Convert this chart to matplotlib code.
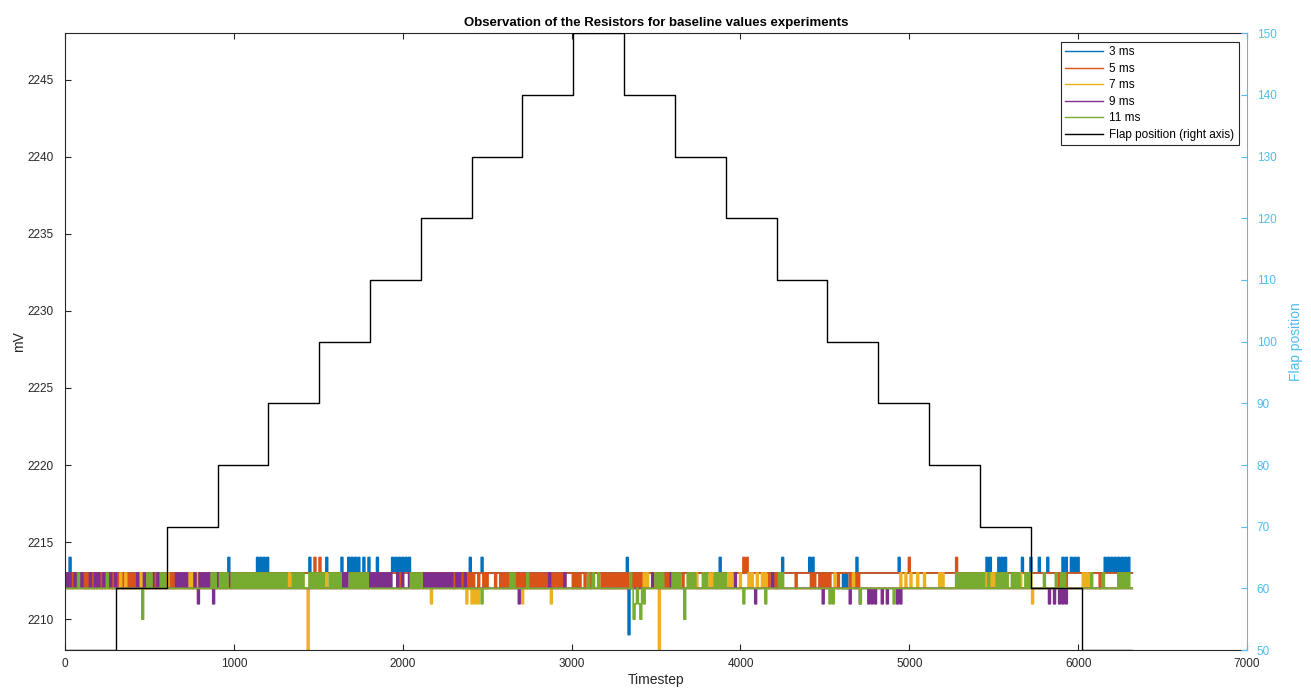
import numpy as np
import matplotlib
matplotlib.use('Agg')
import matplotlib.pyplot as plt

plt.rcParams['font.family'] = ['Liberation Sans', 'DejaVu Sans']

# readings sampled every 10 timesteps, one char = last digit of the mV value
# ('8','9' -> 2208/2209, '0'..'4' -> 2210..2214), read off the figure
DT = 10

ms3 = """
3334333333 3333333333 3333333333 3333333333 3333333333
3333333333 3333333333 3333333333 3333333333 3333333433
3333333333 3333434343 4333333333 3333333333 3333343333
3333343333 3333433343 4343433433 4333343333 3333434343
4343433333 3333333333 3333333333 3333333333 4333333433
3333333333 3333333333 3333333333 3333333333 3333333333
3333333333 3333333333 3333333333 3334933333 3333333333
3333333333 3333333333 3333333333 3333333343 3333333333
3333333333 3333333333 3333343333 3333333333 3434333333
3333333333 3232333334 3333333333 3333333333 3333433333
3333333333 3333333333 3333333333 3333333333 3333334343
3334343433 3333333433 3343333433 3343333333 3434334343
4333333333 3333334343 4343434343 433
"""

ms5 = """
2323232323 2323232323 2323232323 2323232323 2323232323
2323232323 2323232323 2323232323 2323232323 2323232323
3333333333 3333333333 3333333333 3333333333 3333333343
3433333333 3333333333 3333333333 3333333333 3333333323
3333333333 3333333333 3333333333 2333332323 2323323323
2333323323 2323232323 2323232323 2323232323 2323232333
3232323323 3233333323 2323232323 2323232323 2323333333
3333232323 3333332333 3333233333 3333333333 3333333333
3343433333 3333333233 2323333333 3332333333 3323233232
3232333323 3333323323 2333333333 3333333333 3333333333
4333333333 3333333333 3333333343 3333333333 3333333333
3333333333 3333333333 3333333333 3333333332 3332333333
3333333333 3332333333 3333333333 333
"""

ms7 = """
2222222222 2222222222 2222222222 2223223222 2222232322
2222222222 2322222222 2223232232 2222222222 2222222222
2222222222 2222222222 2222222222 2223222222 2222822222
2222232222 2222222222 2222222222 2222222222 2222222222
2222222222 2222222122 2222222222 2222222212 2121212222
2222222222 2222222222 2122222222 2222222212 2222222222
2222222222 2222222222 2222222222 2222222222 2223232223
2282222222 2222222222 2222322222 2232322222 2223232222
3222232322 3223232222 2222222222 2222222222 2222222222
2222223222 2222222322 2222222222 2222222222 2222232232
2322232223 2222222232 3222222222 2222222222 2222232323
2322222222 2222223222 2231222222 2222222222 2222222222
2223232322 2222222222 2222222222 222
"""

ms9 = """
2323223232 3222232232 3223232322 3222222222 2223222322
2232232232 2222223232 3232222321 3232323212 2322222322
2222222222 2222222222 2222222222 2222222222 2222222222
2222222222 2222232322 2222222222 2323232323 2323222322
3222322222 2323232323 2323232323 2232322322 2222222222
2222222222 2222222221 2222222222 2222222322 2222223222
2222222222 2222222222 2222222222 2222222222 2222222232
2222222223 2222222222 2222222222 2222222222 2222222322
2222222221 2222222223 2222222222 2222222222 2222222221
2222222222 2222212222 2122221212 1222122122 2221212222
2222222222 2222222222 2222222222 2222222222 2222222222
2222222222 2222222222 2222222222 2221221221 2121222222
2222222222 2222222222 2222222222 222
"""

ms11 = """
2222222232 2222222222 2222232222 2222222222 2222220223
2322222323 2222222222 2222222222 2222222323 2232323223
2323232323 2323232323 2323232323 2322232323 2322232323
2323222323 2323222223 2323232323 2222222222 2222222222
2222232323 2322222222 2222222222 2222222222 2222222122
2222222222 2222323222 2222322222 2222222222 2222222222
2222222222 3223223222 2222222222 2222232012 1021222222
3232322222 3232322023 2323222232 3222232323 2322222222
2212222222 2222212222 2223232222 2222222222 2222222222
2221212222 2222222222 2122222222 2222222222 2122222222
2222222222 2222222222 2222222232 3232323232 3232322322
2232323232 2323232223 2322222222 3222222322 3232222222
2222222232 2222232222 2222323232 322
"""

labels = ['3 ms', '5 ms', '7 ms', '9 ms', '11 ms']
series = [ms3, ms5, ms7, ms9, ms11]
colors = ['#0072BD', '#D95319', '#EDB120', '#7E2F8E', '#77AC30']

# flap position, one level per 301 timesteps
flap = [50, 60, 70, 80, 90, 100, 110, 120, 130, 140, 150,
        140, 130, 120, 110, 100, 90, 80, 70, 60, 50]
FLAP_STEP = 301


def decode(s):
    d = [int(c) for c in s if c.isdigit()]
    return np.array([2210 + v if v <= 4 else 2200 + v for v in d])


fig = plt.figure(figsize=(13.11, 6.93), dpi=100)
ax = fig.add_axes([0.0496, 0.062, 0.9016, 0.890])
for s, lab, c in zip(series, labels, colors):
    y = decode(s)
    ax.plot(np.arange(len(y)) * DT, y, color=c, lw=1.25, label=lab,
            drawstyle='steps-mid')

ax.set_xlim(0, 7000)
ax.set_ylim(2208, 2248)
ax.set_xticks(range(0, 7001, 1000))
ax.set_yticks(range(2210, 2246, 5))
ax.tick_params(direction='in', length=4, labelsize=8.5, colors='#262626', top=True)
ax.tick_params(axis='y', pad=8)
ax.tick_params(axis='x', pad=6)
ax.set_xlabel('Timestep', fontsize=10, color='#262626', labelpad=2)
ax.set_ylabel('mV', fontsize=10, color='#262626', labelpad=1)
ax.set_title('Observation of the Resistors for baseline values experiments',
             fontsize=9.5, fontweight='bold', pad=5)
for sp in ['left', 'bottom', 'top']:
    ax.spines[sp].set_color('#262626')
    ax.spines[sp].set_linewidth(0.8)
ax.spines['right'].set_visible(False)

ax2 = ax.twinx()
cyan = '#4DBEEE'
fx = np.arange(len(flap) + 1) * FLAP_STEP
ax2.plot(fx, flap + [flap[-1]], drawstyle='steps-post', color='black', lw=1.0,
         label='Flap position (right axis)')
ax2.set_ylim(50, 150)
ax2.set_yticks(range(50, 151, 10))
ax2.tick_params(axis='y', direction='in', length=4, labelsize=8.5, colors=cyan, pad=7)
ax2.set_ylabel('Flap position', fontsize=10, color=cyan, labelpad=9)
for sp in ['left', 'bottom', 'top']:
    ax2.spines[sp].set_visible(False)
ax2.spines['right'].set_color(cyan)
ax2.spines['right'].set_linewidth(0.8)

h1, l1 = ax.get_legend_handles_labels()
h2, l2 = ax2.get_legend_handles_labels()
leg = ax2.legend(h1 + h2, l1 + l2, loc='upper right', fontsize=8.5,
                 fancybox=False, framealpha=1, edgecolor='#262626',
                 handlelength=3.2, borderaxespad=0.7, labelspacing=0.38,
                 handletextpad=0.5)
leg.get_frame().set_linewidth(0.8)
for ln in leg.get_lines():
    ln.set_linewidth(1.0)

fig.savefig('out.png', dpi=100)
